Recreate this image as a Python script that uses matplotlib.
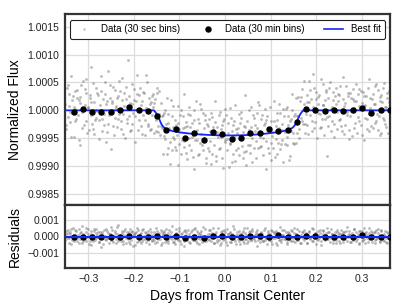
import numpy as np
import matplotlib
matplotlib.use("Agg")
import matplotlib.pyplot as plt
from matplotlib.lines import Line2D

# ---------------- data ----------------
# 30-second samples: time in 1e-3 days from transit center
time_md = [
    -350, -348, -345, -343, -341, -338, -336, -333, -331, -329,
    -326, -324, -321, -319, -317, -314, -312, -309, -307, -305,
    -302, -300, -297, -295, -293, -290, -288, -285, -283, -281,
    -278, -276, -273, -271, -269, -266, -264, -261, -259, -257,
    -254, -252, -249, -247, -245, -242, -240, -237, -235, -233,
    -230, -228, -225, -223, -221, -218, -216, -213, -211, -209,
    -206, -204, -201, -199, -197, -194, -192, -189, -187, -185,
    -182, -180, -177, -175, -173, -170, -168, -165, -163, -161,
    -158, -156, -153, -151, -149, -146, -144, -141, -139, -137,
    -134, -132, -129, -127, -125, -122, -120, -117, -115, -113,
    -110, -108, -105, -103, -101, -98, -96, -93, -91, -89,
    -86, -84, -81, -79, -77, -74, -72, -69, -67, -65,
    -62, -60, -57, -55, -53, -50, -48, -45, -43, -41,
    -38, -36, -33, -31, -29, -26, -24, -21, -19, -17,
    -14, -12, -9, -7, -5, -2, 0, 3, 5, 7,
    10, 12, 15, 17, 19, 22, 24, 27, 29, 31,
    34, 36, 39, 41, 43, 46, 48, 51, 53, 55,
    58, 60, 63, 65, 67, 70, 72, 75, 77, 79,
    82, 84, 87, 89, 91, 94, 96, 99, 101, 103,
    106, 108, 111, 113, 115, 118, 120, 123, 125, 127,
    130, 132, 135, 137, 139, 142, 144, 147, 149, 151,
    154, 156, 159, 161, 163, 166, 168, 171, 173, 175,
    178, 180, 183, 185, 187, 190, 192, 195, 197, 199,
    202, 204, 207, 209, 211, 214, 216, 219, 221, 223,
    226, 228, 231, 233, 235, 238, 240, 243, 245, 247,
    250, 252, 255, 257, 259, 262, 264, 267, 269, 271,
    274, 276, 279, 281, 283, 286, 288, 291, 293, 295,
    298, 300, 303, 305, 307, 310, 312, 315, 317, 319,
    322, 324, 327, 329, 331, 334, 336, 339, 341, 343,
    346, 348, 351, 353, 355, 358, 360,
    -349, -347, -344, -342, -340, -337, -335, -332, -330, -328,
    -325, -323, -320, -318, -316, -313, -311, -308, -306, -304,
    -301, -299, -296, -294, -292, -289, -287, -284, -282, -280,
    -277, -275, -272, -270, -268, -265, -263, -260, -258, -256,
    -253, -251, -248, -246, -244, -241, -239, -236, -234, -232,
    -229, -227, -224, -222, -220, -217, -215, -212, -210, -208,
    -205, -203, -200, -198, -196, -193, -191, -188, -186, -184,
    -181, -179, -176, -174, -172, -169, -167, -164, -162, -160,
    -157, -155, -152, -150, -148, -145, -143, -140, -138, -136,
    -133, -131, -128, -126, -124, -121, -119, -116, -114, -112,
    -109, -107, -104, -102, -100, -97, -95, -92, -90, -88,
    -85, -83, -80, -78, -76, -73, -71, -68, -66, -64,
    -61, -59, -56, -54, -52, -49, -47, -44, -42, -40,
    -37, -35, -32, -30, -28, -25, -23, -20, -18, -16,
    -13, -11, -8, -6, -4, -1, 1, 4, 6, 8,
    11, 13, 16, 18, 20, 23, 25, 28, 30, 32,
    35, 37, 40, 42, 44, 47, 49, 52, 54, 56,
    59, 61, 64, 66, 68, 71, 73, 76, 78, 80,
    83, 85, 88, 90, 92, 95, 97, 100, 102, 104,
    107, 109, 112, 114, 116, 119, 121, 124, 126, 128,
    131, 133, 136, 138, 140, 143, 145, 148, 150, 152,
    155, 157, 160, 162, 164, 167, 169, 172, 174, 176,
    179, 181, 184, 186, 188, 191, 193, 196, 198, 200,
    203, 205, 208, 210, 212, 215, 217, 220, 222, 224,
    227, 229, 232, 234, 236, 239, 241, 244, 246, 248,
    251, 253, 256, 258, 260, 263, 265, 268, 270, 272,
    275, 277, 280, 282, 284, 287, 289, 292, 294, 296,
    299, 301, 304, 306, 308, 311, 313, 316, 318, 320,
    323, 325, 328, 330, 332, 335, 337, 340, 342, 344,
    347, 349, 352, 354, 356, 359, 361,
]
# normalized flux of the 30-second samples, in ppm relative to 1
flux_ppm = [
    120, -340, 450, 80, -210, 610, -50, 260, -480, 30,
    -150, 370, 190, -620, 240, -30, 530, -270, 90, 310,
    -410, 60, 220, -90, 780, -330, 150, -180, 400, -20,
    280, -520, 10, 340, -160, -260, 500, 120, -390, 700,
    -80, 230, -700, 160, 420, -140, 40, -300, 250, -60,
    350, -190, 580, -420, 70, 200, -230, 900, -110, 130,
    -360, 480, -40, 190, -560, 290, 20, -170, 410, -280,
    170, -90, 320, -450, 640, -20, -240, 110, -330, 260,
    60, -410, 210, -175, 305, -390, 350, -290, -110, -780,
    -40, -520, -250, 220, -670, -320, -960, -100, -480, 70,
    -665, -265, -435, 75, -605, -75, -785, -315, 285, -545,
    -205, -875, -65, -495, -295, -715, -225, -1060, 15, -385,
    -540, -160, -780, 110, -420, -630, -50, -490, -180, -860,
    -285, -735, -375, -965, -115, -305, -615, 165, -825, -395,
    -690, -30, -480, -270, -1040, -160, -570, -90, -520, -220,
    50, -600, -370, -790, -190, -910, -340, -410, -670, -60,
    -505, -135, -855, -275, 275, -735, -425, -625, 5, -775,
    -295, -935, -145, -375, -555, -55, -685, 95, -475, -645,
    -85, -505, -225, -1055, -175, -315, -775, 55, -585, -385,
    -670, 170, -520, -180, -780, -320, -50, -610, -240, -930,
    -110, -395, 62, -622, -257, -820, -152, 300, -410, -600,
    -65, -590, -100, 240, -335, 235, -185, 10, 530, -250,
    -70, 280, -430, 150, 360, -190, 650, -320, 40, 210,
    -490, 120, 270, -60, -300, 470, 90, -160, 330, -820,
    230, -110, 510, -380, 60, 180, -240, 400, -30, 290,
    -170, 440, -290, 20, 600, -420, 130, -80, 250, -350,
    310, -10, -460, 210, 170, -230, 480, -120, 70, 380,
    -260, 140, 330, -540, 90, 250, -150, 560, -380, 40,
    200, -320, 110, 430, -200, -60, 370, -440, 160, 280,
    -130, 490, -240, 60, 310, -400, 150,
    -260, 410, -120, 290, -30, -470, 180, 60, 350, -200,
    220, -80, -540, 130, 460, -310, -10, 380, -190, 560,
    40, -360, 270, 150, -250, 490, -420, 10, -130, 320,
    -180, 90, 610, -380, 210, -70, 300, -560, 170, -240,
    450, -30, 140, -290, -440, 360, 80, 230, -160, 520,
    -330, 190, -60, 310, -500, 420, -150, 50, 260, -370,
    120, -250, 380, -100, 170, 640, -350, 280, -20, 90,
    -420, 330, -170, 40, 500, -290, 220, -360, 150, -80,
    290, 130, -380, 395, -275, -65, -450, 130, -315, -80,
    -460, 0, -790, -230, -60, -570, 180, -720, -300, -510,
    -165, -705, -225, -975, -335, 15, -535, -95, -665, -305,
    -765, -275, 55, -625, -85, -475, -845, -165, -525, 165,
    -350, -810, -230, -580, 30, -710, -310, -90, -950, -240,
    -675, -155, -545, -45, -785, -385, -215, -915, -295, -475,
    -80, -670, -340, -860, -200, -540, 30, -710, -400, -1010,
    -590, -130, -930, -260, -480, 90, -720, -320, -810, -230,
    -25, -645, -385, -755, -295, -975, -185, -355, -625, 55,
    -505, -75, -685, -255, -855, -315, 155, -665, -395, -155,
    -805, -255, 25, -545, -105, -675, -335, -885, -185, -465,
    -200, -830, -290, -40, -590, 110, -700, -360, -540, 20,
    -598, 18, -475, -100, -885, -195, -365, 5, -595, -110,
    215, -405, -100, -490, 175, -140, 380, -245, 120, -410,
    150, -260, 530, -90, 210, -370, 60, 400, -210, 330,
    -40, 240, -310, 570, -160, 90, -440, 180, 360, -120,
    -290, 410, 20, -200, 330, -480, 250, 110, -340, 160,
    280, -150, -370, 200, 70, -260, 440, -30, 310, -510,
    -100, 230, 390, -320, 50, 170, -410, 290, -190, 20,
    350, -440, 80, 260, -130, -330, 410, -60, 230, -280,
    -60, 300, -220, 120, 480, -350, -110, 240, -400, 150,
    410, -180, 60, -300, 220, 340, -250,
]
# residuals of the 30-second samples, in ppm
resid_ppm = [
    -220, 150, 390, -80, 270, -460, 60, 510, -300, 120,
    340, -120, -380, 210, 40, 620, -250, 90, -170, 280,
    -60, 430, -290, 180, -540, 70, 330, -200, 460, -10,
    250, -350, 110, -620, 300, 20, -160, 480, -90, 210,
    -400, 170, 560, -230, -50, 320, -380, 140, 690, -130,
    80, -270, 200, -480, 360, -100, 250, -30, -330, 440,
    -190, 310, -570, 90, 230, -310, 520, -60, 160, -420,
    380, -140, 20, 290, -360, 180, -230, 470, 50, -280,
    -70, 260, -410, 130, 330, -180, 40, -520, 290, 110,
    190, -330, 450, -90, -240, 370, -120, 610, -310, 60,
    -450, 220, 80, -170, 510, -280, 150, -40, 340, -600,
    120, -230, 390, 10, -370, 280, -140, 450, -220, 70,
    310, -80, -430, 240, 100, -310, 560, -150, 30, -260,
    -140, 400, 180, -290, -60, 530, -380, 120, 270, -190,
    60, -500, 290, 140, -210, 380, -30, -340, 470, 150,
    -320, 230, -100, 620, -180, 40, -450, 300, 90, -250,
    180, -60, 350, -400, 210, -130, 490, -290, 20, 330,
    -230, 450, -160, 80, 300, -560, 170, -20, -350, 240,
    130, -300, 520, -120, -20, 360, -240, 150, 410, -480,
    -90, 270, -380, 190, 60, -200, 580, -330, 110, 20,
    400, -170, 50, -450, 280, 120, -260, 340, -70, 210,
    -310, 160, 480, -200, 30, -390, 250, -110, 370, -60,
    220, -420, 100, 310, -150, 540, -280, 60, -20, 190,
    -180, 350, -70, 230, -510, 140, 420, -240, 80, -130,
    290, -40, -310, 470, 150, -220, 30, -380, 260, 100,
    -260, 180, 400, -90, -330, 250, -160, 600, -50, 310,
    70, -350, 210, -140, 430, -20, -290, 160, 340, -470,
    150, 320, -200, 40, -420, 280, 90, -170, 500, -80,
    -340, 110, 260, -230, 380, -90, 190, -310, 30, 410,
    90, -250, 340, -120, -380, 230, -30,
    310, -90, 200, -370, 140, 460, -230, -20, 380, -150,
    -280, 90, 430, -160, 250, -410, 170, -50, 520, -300,
    180, -440, 60, 350, -120, -260, 480, -70, 230, 100,
    -360, 270, -30, 150, -480, 390, 20, -240, 310, -110,
    140, -190, 420, -340, 60, 230, -130, 580, -270, 40,
    -60, 360, -250, 120, 470, -390, 80, -170, 300, -450,
    250, -20, 160, -530, 290, -80, 410, -260, -40, 190,
    -300, 440, -130, 220, -60, 330, -450, 110, 270, -190,
    80, -220, 510, -310, 20, 240, -170, 380, -420, 130,
    360, -60, -280, 190, -410, 120, 300, -140, 60, -330,
    -170, 480, -230, 70, 310, -460, 200, -10, -290, 420,
    250, -110, -340, 160, -40, 400, -220, 90, 540, -260,
    -390, 210, 70, -180, 350, -50, -300, 460, -120, 20,
    180, -240, 420, -70, 230, -380, 140, -10, -330, 520,
    -210, 120, -400, 330, 50, -170, 260, -490, 170, -30,
    290, -350, 150, -60, 440, -250, 80, -140, 360, -430,
    -20, 210, -300, 490, -160, 70, -380, 260, 120, -200,
    340, -120, 30, -270, 180, 410, -230, -90, 300, -160,
    -250, 380, -190, 60, -440, 220, 110, -300, 40, 350,
    200, -80, 320, -520, 150, -30, -240, 420, -180, 90,
    -130, 290, -360, 80, 240, -190, 370, -60, -290, 510,
    160, -240, -60, 350, -400, 120, -10, 280, -210, 40,
    -380, 170, 290, -120, 60, -300, 450, -70, 230, -460,
    100, -190, 380, -280, 40, 310, -130, -50, 220, 540,
    -160, 260, -90, 140, -370, 50, 300, -230, 410, -20,
    230, -410, 130, 270, -140, -60, 350, -290, 90, 180,
    -310, 80, -200, 460, -30, 260, -180, 60, -420, 310,
    40, -270, 520, -160, 220, -90, -330, 190, 10, 360,
    190, -60, -390, 280, -140, 430, 20, -250, 330, -110,
    -220, 170, 40, -330, 260, -50, 380,
]

# 30-minute bins
bin_time = [-0.3314, -0.3123, -0.2919, -0.2715, -0.2509, -0.2305, -0.2100,
            -0.1894, -0.1697, -0.1493, -0.1288, -0.1082, -0.0878, -0.0674,
            -0.0468, -0.0263, -0.0059, 0.0147, 0.0351, 0.0555, 0.0762,
            0.0966, 0.1170, 0.1376, 0.1580, 0.1778, 0.1982, 0.2188, 0.2392,
            0.2597, 0.2803, 0.3007, 0.3211, 0.3418, 0.3622]
bin_flux_ppm = [-25, 23, -25, -38, -25, 11, 52, -2, -5, -110, -348, -328,
                -500, -408, -525, -384, -430, -515, -490, -408, -408, -330,
                -380, -361, -210, 30, 11, -13, -2, -13, -2, 47, -48, -2, -2]
bin_resid_ppm = [-40, 0, -40, -60, -40, 0, 40, -20, -20, 20, -20, 40, -120,
                 0, -80, 60, 40, -60, -20, 40, 40, 0, 80, 0, -20, 40, 20,
                 -20, -40, 0, 0, 80, -60, 0, -20]

# best-fit transit model
model_time = [-0.351, -0.156, -0.152, -0.148, -0.144, -0.140, -0.136, -0.132,
              -0.124, -0.114, -0.100, -0.080, -0.060, -0.040, -0.020, 0.000,
              0.016, 0.036, 0.056, 0.076, 0.096, 0.116, 0.130, 0.140, 0.148,
              0.152, 0.156, 0.160, 0.164, 0.168, 0.172, 0.362]
model_ppm = [0, 0, -40, -85, -160, -240, -290, -320, -350, -375, -395, -415,
             -430, -440, -447, -450, -451, -448, -441, -430, -412, -392, -370,
             -345, -315, -280, -230, -160, -85, -35, 0, 0]

x_ticks = [-0.3, -0.2, -0.1, 0.0, 0.1, 0.2, 0.3]
flux_ticks = [0.9985, 0.9990, 0.9995, 1.0000, 1.0005, 1.0010, 1.0015]
resid_ticks = [-0.001, 0.000, 0.001]
x_limits = (-0.351, 0.362)
flux_limits = (0.99830, 1.00173)
resid_limits = (-0.0019, 0.0019)

legend_labels = ["Data (30 sec bins)", "Data (30 min bins)", "Best fit"]

# ---------------- derived arrays ----------------
t = np.array(time_md) / 1000.0
flux = 1.0 + np.array(flux_ppm) * 1e-6
resid = np.array(resid_ppm) * 1e-6
bflux = 1.0 + np.array(bin_flux_ppm) * 1e-6
bresid = np.array(bin_resid_ppm) * 1e-6
mflux = 1.0 + np.array(model_ppm) * 1e-6

# ---------------- style ----------------
plt.rcParams['font.family'] = ['Liberation Sans', 'DejaVu Sans']
SPINE = '#333333'
GRID = '#dcdcdc'
PT_COLOR = '#6a6a6a'
LINE_BLUE = '#1428f0'

fig = plt.figure(figsize=(4.07, 3.08), dpi=100)
gs = fig.add_gridspec(2, 1, height_ratios=[191, 63], hspace=0,
                      left=65 / 407, right=390 / 407,
                      top=1 - 14 / 308, bottom=1 - 268 / 308)
ax = fig.add_subplot(gs[0])
axr = fig.add_subplot(gs[1], sharex=ax)

for a in (ax, axr):
    a.set_facecolor('white')
    a.grid(True, color=GRID, lw=0.9)
    a.set_axisbelow(True)
    for s in a.spines.values():
        s.set_color(SPINE)
        s.set_linewidth(1.6)
    a.tick_params(length=0, pad=4, labelsize=7.5, colors='#222222')

# top panel
ax.scatter(t, flux, s=4.2, color=PT_COLOR, alpha=0.45, linewidths=0, zorder=2)
ax.plot(model_time, mflux, color=LINE_BLUE, lw=1.3, zorder=3)
ax.plot(bin_time, bflux, 'o', color='black', ms=3.6, zorder=4)
ax.set_ylim(*flux_limits)
ax.set_yticks(flux_ticks)
ax.set_yticklabels([f"{v:.4f}" for v in flux_ticks])
ax.set_ylabel("Normalized Flux", fontsize=10)
plt.setp(ax.get_xticklabels(), visible=False)

handles = [
    Line2D([], [], ls='', marker='o', color=PT_COLOR, alpha=0.4, ms=1.8, mew=0),
    Line2D([], [], ls='', marker='o', color='black', ms=3.6),
    Line2D([], [], color=LINE_BLUE, lw=1.2),
]
leg = ax.legend(handles, legend_labels, loc='upper left', ncol=3, mode='expand',
                bbox_to_anchor=(0.0154, 0.0, 0.969, 0.969), borderaxespad=0,
                fontsize=7, numpoints=1, frameon=True, fancybox=True,
                framealpha=1, handlelength=1.9, handletextpad=0.8,
                borderpad=0.45)
leg.get_frame().set_edgecolor('#222222')
leg.get_frame().set_linewidth(0.8)

# residual panel
axr.scatter(t, resid, s=4.2, color=PT_COLOR, alpha=0.45, linewidths=0, zorder=2)
axr.plot(bin_time, bresid, 'o', color='black', ms=3.6, zorder=3)
axr.axhline(0.0, color=LINE_BLUE, lw=1.5, zorder=4)
axr.set_ylim(*resid_limits)
axr.set_yticks(resid_ticks)
axr.set_yticklabels([f"{v:.3f}".replace('-', '\u2212') for v in resid_ticks])
axr.set_ylabel("Residuals", fontsize=10)
axr.set_xlim(*x_limits)
axr.set_xticks(x_ticks)
axr.set_xticklabels([f"{v:.1f}".replace('-', '\u2212') for v in x_ticks])
axr.set_xlabel("Days from Transit Center", fontsize=10, labelpad=4)

fig.savefig("out.png", dpi=100, facecolor='white')
